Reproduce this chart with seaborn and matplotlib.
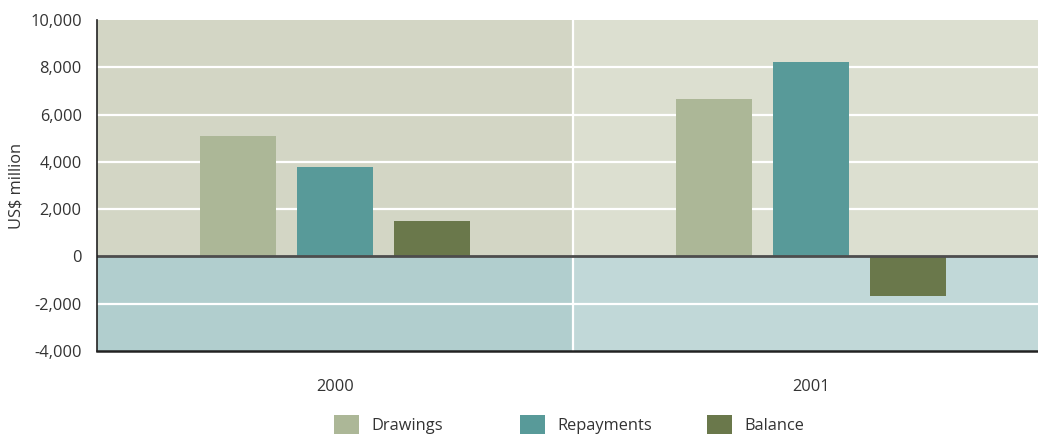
import matplotlib
matplotlib.use("Agg")
import matplotlib.pyplot as plt
from matplotlib.patches import Rectangle, Patch
from matplotlib.ticker import FuncFormatter, MultipleLocator
import pandas as pd
import seaborn as sns

# Data (US$ million)
years = ["2000", "2001"]
series = ["Drawings", "Repayments", "Balance"]
drawings = [5080, 6650]
repayments = [3770, 8220]
balance = [1480, -1690]

colors = ["#acb797", "#589a99", "#6a784b"]

df = pd.DataFrame({
    "year": years * 3,
    "series": [s for s in series for _ in years],
    "value": drawings + repayments + balance,
})

sns.set_theme(style="white")
plt.rcParams["font.family"] = ["Open Sans", "DejaVu Sans"]

FS = 11.8
W, H = 1038, 434

fig = plt.figure(figsize=(W / 100, H / 100), dpi=100)
ax = fig.add_axes([97 / W, 83 / H, 952 / W, 331 / H])

ymin, ymax = -4000, 10000

# Shaded panels: one per year, split above / below zero
panel_top = ["#d3d6c5", "#dcdfd0"]
panel_bottom = ["#b1cece", "#c1d8d8"]
for i in range(len(years)):
    ax.add_patch(Rectangle((i - 0.5, 0), 1, ymax, facecolor=panel_top[i],
                           edgecolor="none", zorder=0))
    ax.add_patch(Rectangle((i - 0.5, ymin), 1, -ymin, facecolor=panel_bottom[i],
                           edgecolor="none", zorder=0))

# White gridlines and year separator
for v in range(ymin + 2000, ymax, 2000):
    if v != 0:
        ax.axhline(v, color="white", lw=1.6, zorder=0.5)
ax.axvline(0.5, color="white", lw=1.6, zorder=0.5)

sns.barplot(data=df, x="year", y="value", hue="series", hue_order=series,
            order=years, palette=colors, saturation=1, width=0.612, gap=0.216,
            legend=False, ax=ax, zorder=2, linewidth=0)

ax.axhline(0, color="#4d4d4d", lw=2.0, zorder=3)

ax.set_xlim(-0.5, 1.5)
ax.set_ylim(ymin, ymax)
ax.yaxis.set_major_locator(MultipleLocator(2000))
ax.yaxis.set_major_formatter(FuncFormatter(lambda v, p: f"{v:,.0f}"))

ax.set_xlabel("")
ax.set_ylabel("US$ million", fontsize=FS, color="#333333", labelpad=4)
ax.tick_params(axis="both", length=0, labelsize=FS, labelcolor="#333333")
ax.tick_params(axis="y", pad=11)
ax.tick_params(axis="x", pad=20)

for side in ("top", "right"):
    ax.spines[side].set_visible(False)
ax.spines["left"].set_color("#222222")
ax.spines["left"].set_linewidth(1.2)
ax.spines["bottom"].set_color("#222222")
ax.spines["bottom"].set_linewidth(1.8)
ax.spines["left"].set_zorder(4)
ax.spines["bottom"].set_zorder(4)

# Legend entries laid out in evenly spaced slots along the bottom
slot_x = [334, 520, 707]
for x0, c, s in zip(slot_x, colors, series):
    leg = fig.legend(handles=[Patch(facecolor=c, edgecolor="none", label=s)],
                     loc="center left", bbox_to_anchor=(x0 / W, 1 - 424.5 / H),
                     frameon=False, fontsize=FS, handlelength=1.5,
                     handleheight=1.5, handletextpad=0.8,
                     borderpad=0, borderaxespad=0)
    for t in leg.get_texts():
        t.set_color("#333333")

fig.savefig("out.png", dpi=100)
